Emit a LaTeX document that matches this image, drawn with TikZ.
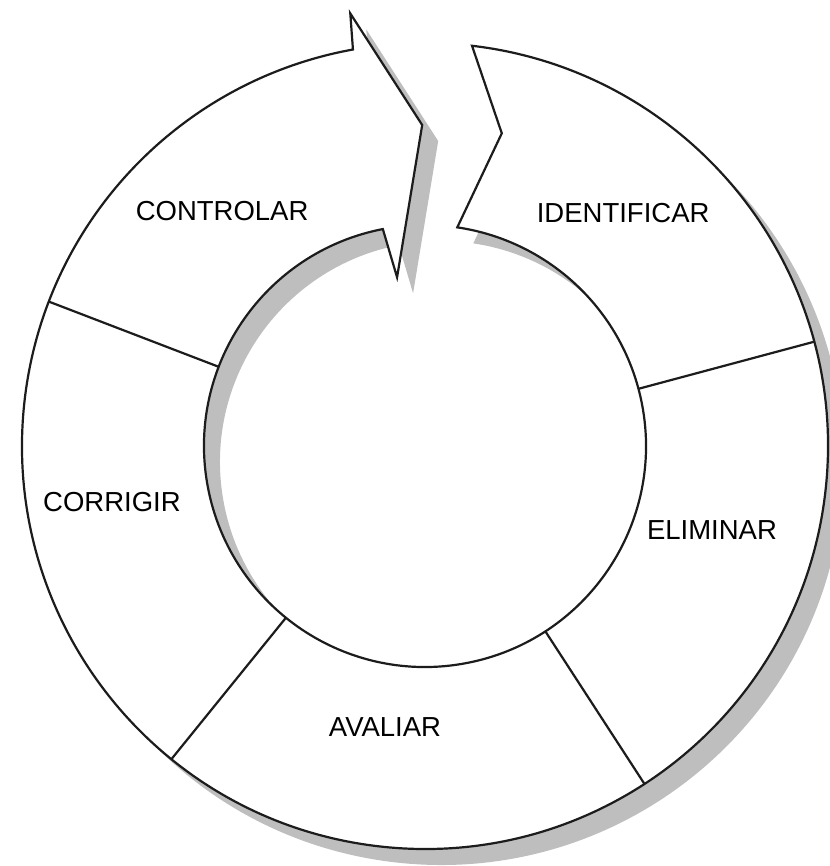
\documentclass[tikz,border=0pt]{standalone}
\usepackage{fontspec}
\setmainfont{Liberation Sans}
\usetikzlibrary{positioning}
\definecolor{inkgrey}{HTML}{1C1C1C}
\definecolor{shadowgrey}{HTML}{BEBEBE}

% outline of the ring: arrow head on the left piece, notch on the right piece
\newcommand{\cycleoutline}{
    (83.3:403) arc[start angle=83.3, end angle=-259.7, radius=403]
    -- (99.8:439) -- (90.5:321) -- (99.4:171) -- (101:221)
    arc[start angle=101, end angle=441.6, radius=221]
    -- (76.2:322) -- cycle}

\begin{document}
\begin{tikzpicture}[
    x=0.5pt, y=0.5pt,
    ring/.style={fill=white, draw=inkgrey, line width=1.1pt, line join=miter},
    ringshadow/.style={fill=shadowgrey, draw=none},
    divider/.style={draw=inkgrey, line width=1.1pt},
    steplabel/.style={font=\fontsize{13.75}{16}\selectfont, text=black, inner sep=0pt}
]
\useasboundingbox (-425,-420) rectangle (404,446);

% ==================== SHADOW ====================
\begin{scope}[shift={(16,-16)}]
    \fill[ringshadow] \cycleoutline;
\end{scope}

% ==================== RING ====================
\filldraw[ring] \cycleoutline;

% ==================== DIVIDERS ====================
\draw[divider] (15:221) -- (15:403);
\draw[divider] (-57:221) -- (-57:403);
\draw[divider] (231:221) -- (231:403);
\draw[divider] (159:221) -- (159:403);

% ==================== LABELS ====================
\node[steplabel] (identificar) at (49.6:305.7) {IDENTIFICAR};
\node[steplabel] (eliminar) at (-16.3:299) {ELIMINAR};
\node[steplabel] (avaliar) at (261.9:284) {AVALIAR};
\node[steplabel] (corrigir) at (190.1:318) {CORRIGIR};
\node[steplabel] (controlar) at (130.8:310.5) {CONTROLAR};

\end{tikzpicture}
\end{document}
